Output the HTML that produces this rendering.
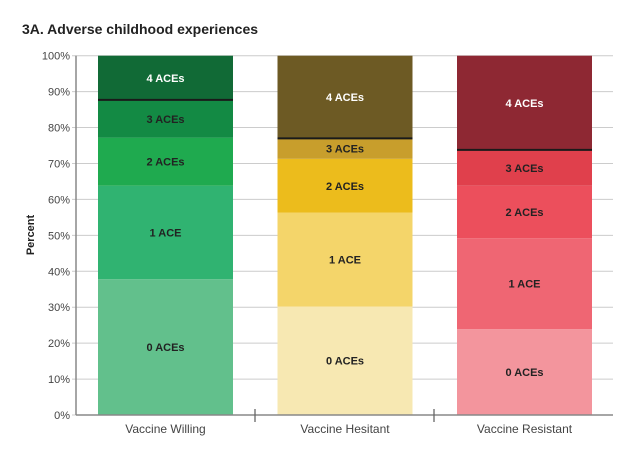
<!DOCTYPE html>
<html><head><meta charset="utf-8"><style>
body{margin:0;background:#fff;width:640px;height:454px;overflow:hidden;font-family:"Liberation Sans",sans-serif}
svg text{font-family:"Liberation Sans",sans-serif}
</style></head><body>
<svg id="chart" width="640" height="454">
<text x="22" y="34" font-size="14" font-weight="bold" fill="#222">3A. Adverse childhood experiences</text>
<g id="grid"></g><g id="bars"></g><g id="axes"></g>
</svg>
<script>
const categories=["Vaccine Willing","Vaccine Hesitant","Vaccine Resistant"];
const segLabels=["0 ACEs","1 ACE","2 ACEs","3 ACEs","4 ACEs"];
const willing=[37.8,26.0,13.4,10.5,12.3];
const hesitant=[30.2,26.1,15.0,5.7,23.0];
const resistant=[23.9,25.3,14.6,10.0,26.2];
const yTicks=[0,10,20,30,40,50,60,70,80,90,100];
const series=[willing,hesitant,resistant];
const colors=[["#62c08c","#30b371","#1faa4f","#138a44","#116a36"],
 ["#f7e8b2","#f4d56a","#ecbc1c","#c89e2c","#6d5a24"],
 ["#f3959d","#ef6673","#ec4f5c","#e0404c","#8e2833"]];
const labelColors=[["#222","#222","#222","#222","#fff"],["#222","#222","#222","#222","#fff"],["#222","#222","#222","#222","#fff"]];
const NS="http://www.w3.org/2000/svg";
const y0=415,y1=55.7,xL=76,xR=613;
const y=v=>y0-(y0-y1)*v/100;
const barX=i=>98+i*179.5, barW=135;
function mk(t,a,p){const e=document.createElementNS(NS,t);for(const k in a)e.setAttribute(k,a[k]);p.appendChild(e);return e;}
const grid=document.getElementById('grid'),bars=document.getElementById('bars'),axes=document.getElementById('axes');
yTicks.forEach(t=>{
 const l=mk('line',{x1:xL-4,x2:xR,y1:y(t),y2:y(t),stroke:'#ccc','stroke-width':1},grid);
 
 
 const tx=mk('text',{x:xL-6,y:y(t)+4,'text-anchor':'end','font-size':11,fill:'#444'},axes);
 tx.textContent=t+'%';
 
 
});
series.forEach((s,i)=>{
 let cum=0;
 s.forEach((v,j)=>{
  const r=mk('rect',{x:barX(i),y:y(cum+v),width:barW,height:y(cum)-y(cum+v),fill:colors[i][j]},bars);
  
  
  const t=mk('text',{x:barX(i)+barW/2,y:y(cum+v/2)+4,'text-anchor':'middle','font-size':11,'font-weight':'bold',fill:labelColors[i][j]},bars);
  t.textContent=segLabels[j];
  
  
  cum+=v;
 });
 const sep=s[0]+s[1]+s[2]+s[3];
 const ln=mk('line',{x1:barX(i),x2:barX(i)+barW,y1:y(sep),y2:y(sep),stroke:'#1a1a1a','stroke-width':2},bars);
 
 
 const c=mk('text',{x:barX(i)+barW/2,y:433,'text-anchor':'middle','font-size':12,fill:'#444'},axes);
 c.textContent=categories[i];
 
 
});
const ya=mk('line',{x1:xL,x2:xL,y1:y1,y2:y0,stroke:'#888','stroke-width':1.5},axes);


const xa=mk('line',{x1:xL,x2:xR,y1:y0,y2:y0,stroke:'#888','stroke-width':1.5},axes);


[255,434].forEach(x=>{
 const t=mk('line',{x1:x,x2:x,y1:y0-6,y2:y0+7,stroke:'#666','stroke-width':1.3},axes);
 
 
});
const yt=mk('text',{x:0,y:0,'text-anchor':'middle','font-size':11,'font-weight':'bold',fill:'#222',transform:'translate(34,235) rotate(-90)'},axes);
yt.textContent='Percent';


</script>
</body></html>
